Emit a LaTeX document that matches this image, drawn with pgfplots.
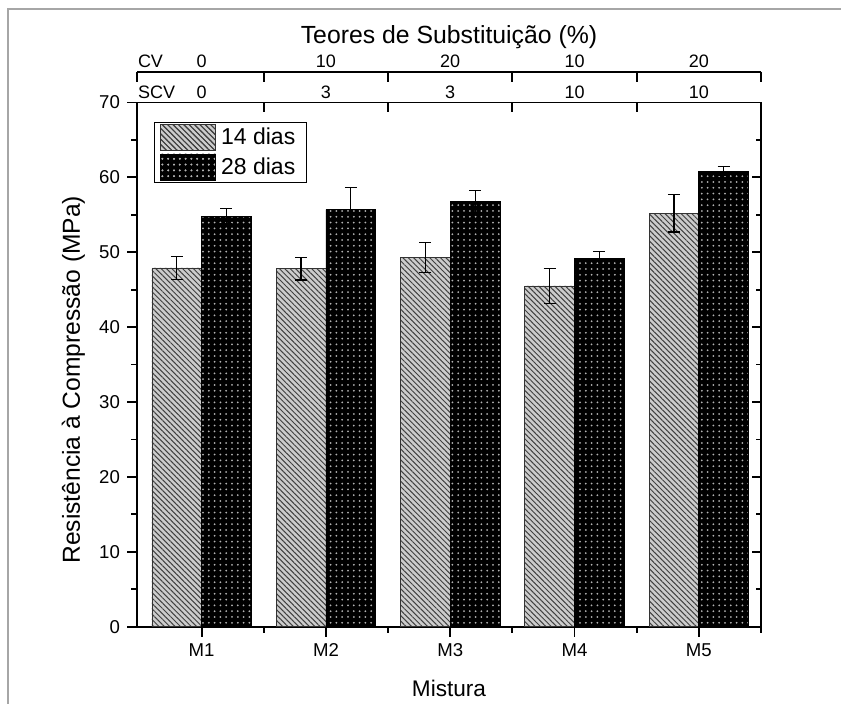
\documentclass[border=0pt]{standalone}
\usepackage{pgfplots}
\pgfplotsset{compat=1.18}
\usepackage{pgfplotstable}
\usepackage{fontspec}
\setmainfont{Liberation Sans}
\usetikzlibrary{patterns.meta}

\pgfplotstableread{
x y err
0 47.9 1.5
1 47.8 1.5
2 49.3 2.0
3 45.5 2.3
4 55.2 2.5
}\dataA
\pgfplotstableread{
x y err
0 54.8 1.0
1 55.7 3.0
2 56.8 1.5
3 49.2 0.9
4 60.8 0.6
}\dataB

\tikzset{
  hatchpat/.style={pattern={Lines[angle=-45, distance=1.9pt, line width=0.5pt]}, pattern color=black!75},
  dotpat/.style={pattern={Dots[distance=2.9pt, radius=0.5pt]}, pattern color=black!30},
}

\begin{document}
\begin{tikzpicture}
\useasboundingbox (0,0) rectangle (420.5pt,352pt);
% frame lines
\draw[gray!70, line width=0.6pt] (4pt,0) -- (4pt,347.5pt) -- (420.5pt,347.5pt);

\pgfplotsset{
  common/.style={
    scale only axis, width=312pt, height=262.1pt,
    xmin=-0.52, xmax=4.5, ymin=0, ymax=70,
    axis line style={line width=0.9pt, -},
    every tick/.style={black, line width=0.9pt},
    /pgf/number format/assume math mode=true,
    tick label style={font=\fontsize{9.3}{10}\selectfont},
  },
  topline/.style={
    scale only axis, width=312pt, height=10pt,
    xmin=-0.52, xmax=4.5, ymin=0, ymax=1,
    axis x line*=top, axis y line=none,
    axis line style={line width=0.9pt, -},
    every tick/.style={black, line width=0.9pt},
    tick align=inside,
    xtick={0,...,4},
    major tick length=0pt,
    minor tick length=5pt,
    /pgf/number format/assume math mode=true,
    xticklabel style={font=\fontsize{9}{10}\selectfont, yshift=-1.5pt},
  },
  hatchlegend/.style={legend image code/.code={%
    \draw[draw=black!80, line width=0.4pt, fill=gray!40, postaction={hatchpat}] (0pt,-6.6pt) rectangle (27.5pt,6.6pt);}},
  dotlegend/.style={legend image code/.code={%
    \draw[draw=black, line width=0.4pt, fill=black, postaction={dotpat}] (0pt,-6.6pt) rectangle (27.5pt,6.6pt);}},
}

% main axis
\begin{axis}[common,
  at={(68.5pt,38.65pt)}, anchor=south west,
  axis x line*=bottom, axis y line*=left,
  tick align=outside,
  major tick length=5pt, minor tick length=3pt,
  ytick={0,10,...,70}, minor ytick={5,15,...,65},
  xtick={0,...,4}, xticklabels={M1,M2,M3,M4,M5},
  minor xtick={0.5,1.5,2.5,3.5,4.5},
  ybar=0pt, bar width=0.4,
  xlabel={Mistura},
  ylabel={Resistência à Compressão (MPa)},
  xlabel style={font=\fontsize{11.3}{13}\selectfont, at={(axis description cs:0.5,-0.117)}, anchor=center},
  ylabel style={font=\fontsize{12.3}{14}\selectfont, at={(axis description cs:-0.102,0.471)}, anchor=center},
  legend style={at={(axis description cs:0.027,0.963)}, anchor=north west,
    draw=black, line width=0.5pt, font=\fontsize{11.5}{12}\selectfont,
    inner xsep=3pt, inner ysep=0.8pt, row sep=1.2pt,
    nodes={inner xsep=2.5pt, inner ysep=0pt}},
  legend cell align=left,
]
\addplot[hatchlegend, draw=black!80, line width=0.4pt, fill=gray!40,
  postaction={hatchpat},
  error bars/.cd, y dir=both, y explicit,
  error bar style={black, line width=0.6pt},
  error mark options={rotate=90, black, mark size=3pt, line width=0.6pt}]
  table[x=x, y=y, y error=err] {\dataA};
\addlegendentry{14 dias}
\addplot[dotlegend, draw=black, line width=0.4pt, fill=black,
  postaction={dotpat},
  error bars/.cd, y dir=both, y explicit,
  error bar style={black, line width=0.6pt},
  error mark options={rotate=90, black, mark size=3pt, line width=0.6pt}]
  table[x=x, y=y, y error=err] {\dataB};
\addlegendentry{28 dias}
\end{axis}

% right axis
\begin{axis}[common,
  at={(68.5pt,38.65pt)}, anchor=south west,
  axis x line=none, axis y line*=right,
  tick align=inside,
  ytick={0,10,...,70}, minor ytick={5,15,...,65}, yticklabels={},
  major tick length=4.5pt, minor tick length=2.5pt,
]
\end{axis}

% SCV axis (top of plot)
\begin{axis}[topline,
  at={(68.5pt,300.75pt)}, anchor=north west,
  xticklabels={0,3,3,10,10},
  minor xtick={0.5,1.5,2.5,3.5},
]
\end{axis}

% CV axis
\begin{axis}[topline,
  at={(68.5pt,316.15pt)}, anchor=north west,
  xticklabels={0,10,20,10,20},
  minor xtick={-0.52,0.5,1.5,2.5,3.5,4.5},
]
\end{axis}

\node[font=\fontsize{9}{10}\selectfont, anchor=west, inner sep=0pt] at (68.8pt,321.5pt) {CV};
\node[font=\fontsize{9}{10}\selectfont, anchor=west, inner sep=0pt] at (68.8pt,306pt) {SCV};
\node[font=\fontsize{12.4}{14}\selectfont] at (224.5pt,333.5pt) {Teores de Substituição (\%)};
\end{tikzpicture}
\end{document}
